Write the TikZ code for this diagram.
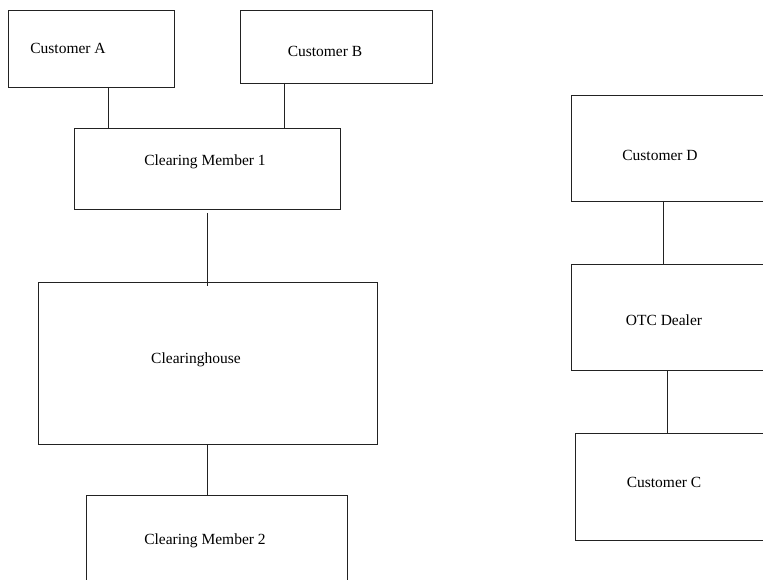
\documentclass[tikz,border=0pt]{standalone}
\usepackage{fontspec}
\setmainfont{Liberation Serif}
\usepackage{tikz}
\usepackage{xcolor}
\usetikzlibrary{positioning,calc}
\definecolor{cA}{HTML}{222222}
\tikzset{
  box/.style={draw=cA,line width=0.8pt,inner sep=0pt,outer sep=0pt},
  lbl/.style={inner sep=0pt,font=\fontsize{15.5}{18}\selectfont},
  link/.style={draw=cA,line width=0.8pt},
}

\begin{document}
\begin{tikzpicture}[x=1pt,y=-1pt]
  \useasboundingbox (0,0) rectangle (763,580);
  \clip (0,0) rectangle (763,580);
  % left column
  \node[box,minimum width=166pt,minimum height=77pt](ca) at (91,48.5){};
  \node[box,minimum width=192pt,minimum height=73pt](cb) at (336,46.5){};
  \node[box,minimum width=266pt,minimum height=81pt](cm1) at (207,168.5){};
  \node[box,minimum width=339pt,minimum height=162pt](ch) at (207.5,363){};
  \node[box,minimum width=261pt,minimum height=130pt](cm2) at (216.5,560){};
  \node[lbl](ta) at (68,48.5){Customer A};
  \node[lbl](tb) at (325,51.5){Customer B};
  \node[lbl](tm1) at (205,162){Clearing Member 1};
  \node[lbl](th) at (196,360){Clearinghouse};
  \node[lbl](tm2) at (205,541){Clearing Member 2};
  % right column
  \node[box,minimum width=200pt,minimum height=106pt](cd) at (671,148){};
  \node[box,minimum width=200pt,minimum height=106pt](otc) at (671,317){};
  \node[box,minimum width=200pt,minimum height=107pt](cc) at (675,486.5){};
  \node[lbl](td) at (660,155){Customer D};
  \node[lbl](to) at (664,320){OTC Dealer};
  \node[lbl](tc) at (664,482){Customer C};
  % links
  \draw[link] ([xshift=17pt]ca.south) -- ([xshift=17pt]ca.south |- cm1.north);
  \draw[link] ([xshift=-52pt]cb.south) -- ([xshift=-52pt]cb.south |- cm1.north);
  \draw[link] ([yshift=-4pt]cm1.south) -- ([yshift=-4pt]cm1.south |- ch.north);
  \draw[link] (ch.south) -- (ch.south |- cm2.north);
  \draw[link] ([xshift=-8pt]cd.south) -- ([xshift=-8pt]otc.north);
  \draw[link] ([xshift=-4pt]otc.south) -- ([xshift=-4pt]otc.south |- cc.north);
\end{tikzpicture}
\end{document}
